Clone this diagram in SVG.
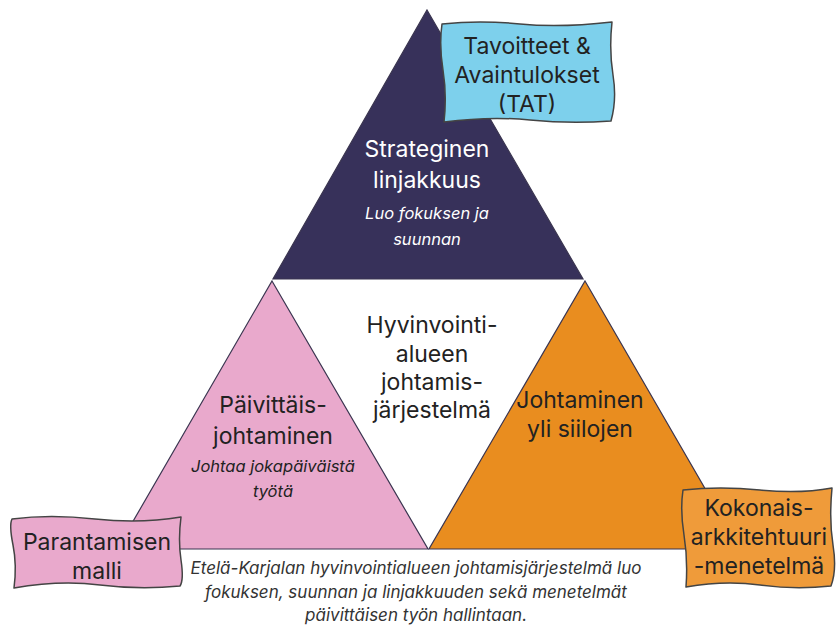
<svg xmlns="http://www.w3.org/2000/svg" width="836" height="625" viewBox="0 0 836 625">
<style>
.t{font-family:Inter,"Open Sans","Liberation Sans",sans-serif;font-size:23px;text-anchor:middle;fill:#222}
.w{fill:#fff}
.i{font-style:italic;font-size:16.5px}
.c{font-style:italic;font-size:17px;fill:#333}
.box{stroke:#444;stroke-width:1.5;stroke-linejoin:round}
.tri{stroke:#3a3550;stroke-width:1.2}
</style>
<rect width="836" height="625" fill="#fff"/>
<g id="strateginen">
<polygon class="tri" points="427,10 583,279 273,279" fill="#37315a"/>
<text class="t w" x="427" y="157">Strateginen</text>
<text class="t w" x="427" y="188">linjakkuus</text>
<text class="t w i" x="427" y="219">Luo fokuksen ja</text>
<text class="t w i" x="427" y="245">suunnan</text>
</g>
<g id="paivittais">
<polygon class="tri" points="272,281 428,549 117,549" fill="#e9a9cc"/>
<text class="t" x="273" y="413">Päivittäis-</text>
<text class="t" x="273" y="444">johtaminen</text>
<text class="t i" x="273" y="472">Johtaa jokapäiväistä</text>
<text class="t i" x="273" y="497">työtä</text>
</g>
<g id="johtaminen">
<polygon class="tri" points="585,281 740,549 429,549" fill="#e98d1f"/>
<text class="t" x="580" y="408">Johtaminen</text>
<text class="t" x="580" y="437">yli siilojen</text>
</g>
<g id="keskus">
<text class="t" x="432" y="333">Hyvinvointi-</text>
<text class="t" x="432" y="362">alueen</text>
<text class="t" x="432" y="390">johtamis-</text>
<text class="t" x="432" y="418">järjestelmä</text>
</g>
<g id="tat">
<path class="box" fill="#7dd0ec" d="M442,24 Q480,20 520,24 T612,22 Q609,50 613,75 T611,121 Q570,124 530,120 T444,122 Q447,95 443,70 T442,24 Z"/>
<text class="t" x="527" y="54">Tavoitteet &amp;</text>
<text class="t" x="527" y="83">Avaintulokset</text>
<text class="t" x="527" y="112">(TAT)</text>
</g>
<g id="parantamisen">
<path class="box" fill="#e9a9cc" d="M12,519 Q50,514 95,519 T181,517 Q178,540 181,560 T180,586 Q140,590 100,585 T14,588 Q17,565 13,545 T12,519 Z"/>
<text class="t" x="97" y="550">Parantamisen</text>
<text class="t" x="97" y="579">malli</text>
</g>
<g id="kokonais">
<path class="box" fill="#ef9b3a" d="M683,490 Q720,486 760,490 T832,488 Q829,520 833,545 T831,586 Q795,590 760,585 T686,587 Q688,560 684,535 T683,490 Z"/>
<text class="t" x="759" y="516">Kokonais-</text>
<text class="t" x="759" y="545">arkkitehtuuri</text>
<text class="t" x="759" y="574">-menetelmä</text>
</g>
<g id="connectors"></g>
<g id="caption">
<text class="t c" x="416" y="574">Etelä-Karjalan hyvinvointialueen johtamisjärjestelmä luo</text>
<text class="t c" x="416" y="598">fokuksen, suunnan ja linjakkuuden sekä menetelmät</text>
<text class="t c" x="416" y="621">päivittäisen työn hallintaan.</text>
</g>
</svg>
